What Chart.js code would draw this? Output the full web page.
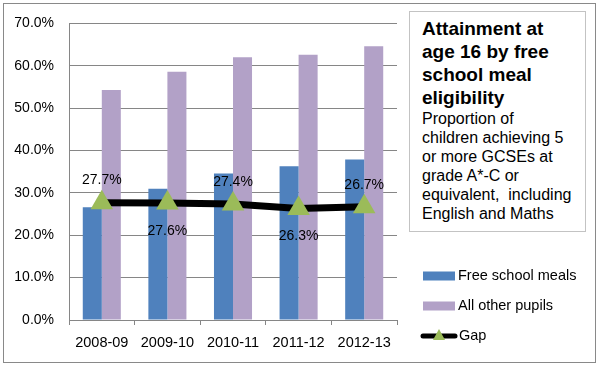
<!DOCTYPE html>
<html>
<head>
<meta charset="utf-8">
<script src="https://cdn.jsdelivr.net/npm/chart.js@4"></script>
<style>
  body { margin: 0; background: #fff; }
  #wrap { position: relative; width: 599px; height: 366px; font-family: "Liberation Sans", Arial, sans-serif; }
  #frame { position: absolute; left: 3px; top: 3px; width: 591px; height: 358px; border: 1px solid #898989; }
  #gap-chart { position: absolute; left: 0; top: 0; }
  #title-box { position: absolute; left: 409px; top: 11px; width: 177px; height: 221px; box-sizing: border-box;
    border: 1px solid #c3c3c3; padding: 5px 0 0 12px; background: #fff; color: #000; }
  #title-box h1 { margin: 0; font-size: 19px; line-height: 23px; font-weight: bold; }
  #title-box p { margin: 0; font-size: 16px; line-height: 19px; }
</style>
</head>
<body>
<div id="wrap">
  <div id="frame"></div>
  <canvas id="gap-chart" width="599" height="366"></canvas>
  <div id="title-box">
    <h1>Attainment at<br>age 16 by free<br>school meal<br>eligibility</h1>
    <p>Proportion of<br>children achieving 5<br>or more GCSEs at<br>grade A*-C or<br>equivalent,&nbsp; including<br>English and Maths</p>
  </div>
</div>
<script>
// values
const years = ["2008-09", "2009-10", "2010-11", "2011-12", "2012-13"];
const freeSchoolMeals = [26.6, 31.0, 34.6, 36.3, 37.9];
const otherPupils = [54.3, 58.6, 62.0, 62.6, 64.6];
const gap = [27.7, 27.6, 27.4, 26.3, 26.7];
const labelSide = ["above", "below", "above", "below", "above"];

const gridGrey = "#868686";

// gap value labels, alternating above / below the markers
const gapLabels = {
    id: "gapLabels",
    afterDatasetsDraw(chart) {
        var ctx = chart.ctx;
        var meta = chart.getDatasetMeta(2);
        ctx.save();
        ctx.font = '14px "Liberation Sans"';
        ctx.fillStyle = "#000";
        ctx.textAlign = "center";
        ctx.textBaseline = "middle";
        meta.data.forEach(function (pt, i) {
            var dy = labelSide[i] === "above" ? -22 : 28;
            ctx.fillText(gap[i].toFixed(1) + "%", pt.x, pt.y + dy);
        });
        ctx.restore();
    }
};

// Excel style legend under the title box
const sideLegend = {
    id: "sideLegend",
    afterDraw(chart) {
        var ctx = chart.ctx;
        var ds = chart.data.datasets;
        var rows = [276, 306, 336];
        ctx.save();
        ctx.font = '14.5px "Liberation Sans"';
        ctx.textBaseline = "middle";
        ctx.textAlign = "left";

        for (var i = 0; i < 2; i++) {
            ctx.fillStyle = ds[i].backgroundColor;
            ctx.fillRect(423, rows[i] - 4.5, 32, 9);
            ctx.fillStyle = "#000";
            ctx.fillText(ds[i].label, 458, rows[i]);
        }

        var y = rows[2];
        ctx.strokeStyle = ds[2].borderColor;
        ctx.lineWidth = 5;
        ctx.lineCap = "round";
        ctx.beginPath();
        ctx.moveTo(423, y);
        ctx.lineTo(455, y);
        ctx.stroke();
        ctx.fillStyle = ds[2].pointBackgroundColor;
        ctx.beginPath();
        ctx.moveTo(439, y - 7);
        ctx.lineTo(445, y + 4);
        ctx.lineTo(433, y + 4);
        ctx.closePath();
        ctx.fill();
        ctx.fillStyle = "#000";
        ctx.fillText(ds[2].label, 459, y);
        ctx.restore();
    }
};

document.addEventListener("DOMContentLoaded", () => {
    var ctx = document.getElementById("gap-chart").getContext("2d");

    new Chart(ctx, {
        type: "bar",
        data: {
            labels: years,
            datasets: [
                {
                    label: "Free school meals",
                    data: freeSchoolMeals,
                    backgroundColor: "#4F81BD",
                    categoryPercentage: 0.58,
                    barPercentage: 1,
                    order: 1
                },
                {
                    label: "All other pupils",
                    data: otherPupils,
                    backgroundColor: "#B2A1C7",
                    categoryPercentage: 0.58,
                    barPercentage: 1,
                    order: 1
                },
                {
                    type: "line",
                    label: "Gap",
                    data: gap,
                    borderColor: "#000",
                    borderWidth: 7,
                    tension: 0,
                    pointStyle: "triangle",
                    pointRadius: 13,
                    pointBackgroundColor: "#9BBB59",
                    pointBorderWidth: 0,
                    order: 0
                }
            ]
        },
        options: {
            responsive: false,
            animation: false,
            devicePixelRatio: 1,
            layout: { padding: { top: 20, right: 202, bottom: 0, left: 0 } },
            plugins: {
                legend: { display: false },
                tooltip: { enabled: false }
            },
            scales: {
                x: {
                    afterFit: function (scale) { scale.height = 46; },
                    grid: { drawOnChartArea: false, tickLength: 5, color: gridGrey },
                    border: { color: gridGrey },
                    ticks: {
                        color: "#000",
                        padding: 9,
                        font: { family: "Liberation Sans", size: 14.5 }
                    }
                },
                y: {
                    min: 0,
                    max: 70,
                    afterFit: function (scale) { scale.width = 69; },
                    grid: { color: gridGrey, drawTicks: false },
                    border: { color: gridGrey },
                    ticks: {
                        stepSize: 10,
                        color: "#000",
                        padding: 15,
                        font: { family: "Liberation Sans", size: 14 },
                        callback: function (value) {
                            return value.toFixed(1) + "%";
                        }
                    }
                }
            }
        },
        plugins: [gapLabels, sideLegend]
    });
});
</script>
</body>
</html>
